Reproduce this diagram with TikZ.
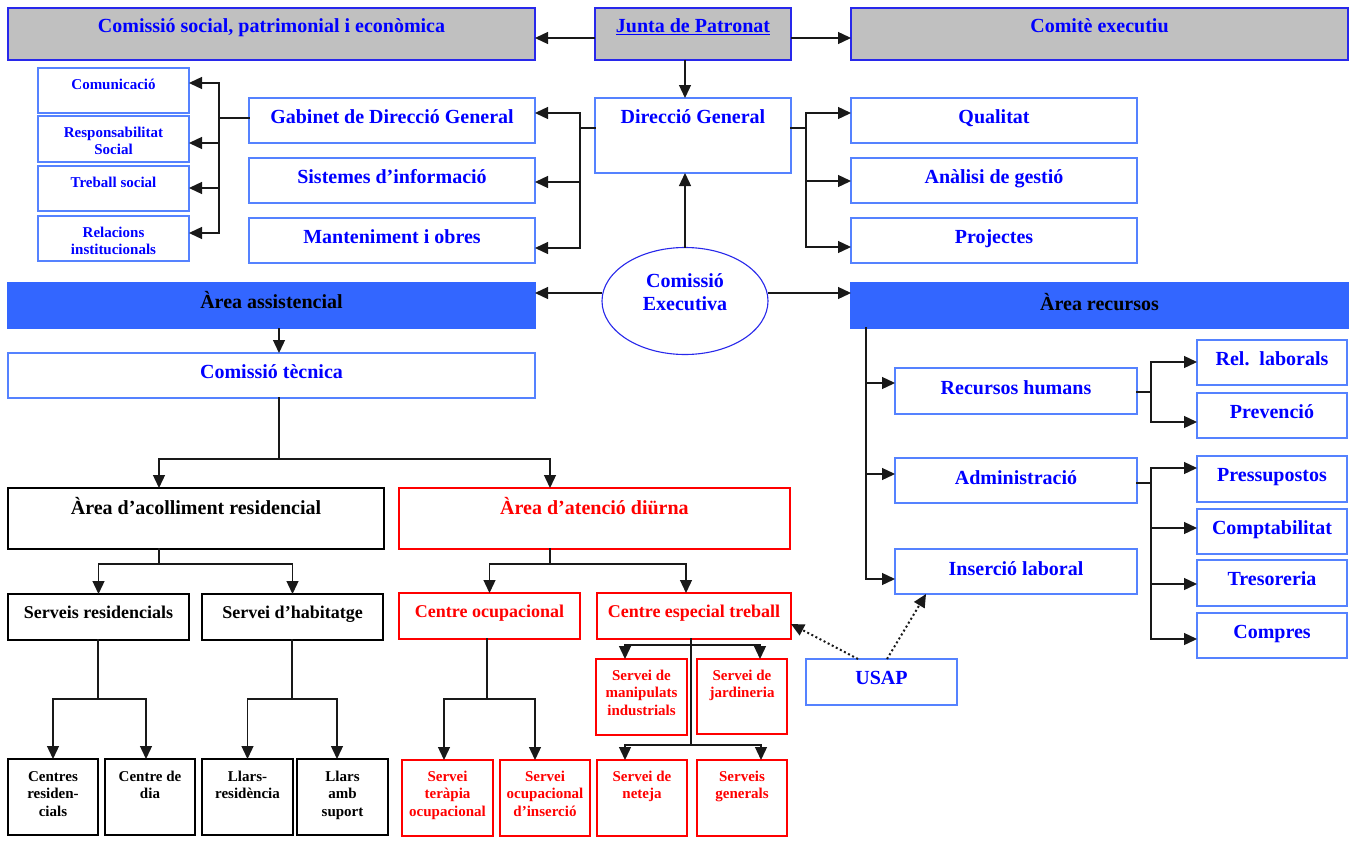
\documentclass[tikz,border=0pt]{standalone}
\usepackage{fontspec}
\setmainfont{Liberation Serif}
\usetikzlibrary{arrows.meta,shapes.geometric}
\definecolor{txtblue}{RGB}{0,0,255}
\definecolor{bordblue}{RGB}{85,130,255}
\definecolor{darkblue}{RGB}{40,40,235}
\definecolor{graybg}{RGB}{192,192,192}
\definecolor{areablue}{RGB}{51,102,255}
\definecolor{lnclr}{RGB}{25,25,25}
\definecolor{redc}{RGB}{255,0,0}
\begin{document}
\begin{tikzpicture}[x=1pt,y=-1pt,
  bx/.style n args={3}{inner sep=0pt, outer sep=0pt, anchor=north west, line width=1.1pt,
     execute at begin node={\begin{minipage}[t][#2pt][t]{#1pt}\centering\rule{0pt}{#3pt}},
     execute at end node={\end{minipage}}},
  big/.style={font=\fontsize{20}{23}\selectfont\bfseries},
  mid/.style={font=\fontsize{18}{21}\selectfont\bfseries},
  sml/.style={font=\fontsize{15}{17.5}\selectfont\bfseries},
  bluebox/.style={draw=bordblue, fill=white, text=txtblue},
  graybox/.style={draw=darkblue, fill=graybg, text=txtblue},
  areabox/.style={draw=areablue, fill=areablue, text=black},
  blackbox/.style={draw=black, fill=white, text=black},
  redbox/.style={draw=redc, fill=white, text=redc},
  ln/.style={draw=lnclr, line width=1.3pt, line cap=rect},
  arr/.style={draw=lnclr, line width=1.3pt, -{Triangle[length=13pt,width=12pt]}},
  dotarr/.style={draw=lnclr, line width=2pt, dash pattern=on 2pt off 2.6pt, -{Triangle[length=13pt,width=12pt]}}
]
\fill[white] (0,0) rectangle (1356,843);
\useasboundingbox (0,0) rectangle (1356,843);

% top row
\node[bx={527}{52}{25}, big, graybox] (comsoc) at (8,8) {Comissió social, patrimonial i econòmica};
\node[bx={196}{52}{25}, big, graybox] (junta) at (595,8) {\underline{Junta de Patronat}};
\node[bx={497}{52}{25}, big, graybox] (comite) at (851,8) {Comitè executiu};

% direction
\node[bx={196}{75}{25}, big, bluebox] (dirgen) at (595,98) {Direcció General};
\node[bx={286}{45}{25}, big, bluebox] (gabinet) at (249,98) {Gabinet de Direcció General};
\node[bx={286}{45}{25}, big, bluebox] (sistemes) at (249,158) {Sistemes d’informació};
\node[bx={286}{45}{25}, big, bluebox] (mant) at (249,218) {Manteniment i obres};
\node[bx={286}{45}{25}, big, bluebox] (qualitat) at (851,98) {Qualitat};
\node[bx={286}{45}{25}, big, bluebox] (analisi) at (851,158) {Anàlisi de gestió};
\node[bx={286}{45}{25}, big, bluebox] (projectes) at (851,218) {Projectes};

\node[bx={151}{45}{21}, sml, bluebox] (comunic) at (38,68) {Comunicació};
\node[bx={151}{46}{21}, sml, bluebox] (respons) at (38,116) {Responsabilitat\\Social};
\node[bx={151}{45}{21}, sml, bluebox] (treball) at (38,166) {Treball social};
\node[bx={151}{45}{21}, sml, bluebox] (relac) at (38,216) {Relacions\\institucionals};

% commission
\node[bx={110}{60}{16}, big, ellipse, draw=darkblue, fill=white, text=txtblue,
      minimum width=166pt, minimum height=107pt, anchor=center] (comexe) at (685,301) {Comissió\\Executiva};

\node[bx={527}{45}{25}, big, areabox] (assist) at (8,283) {Àrea assistencial};
\node[bx={497}{45}{27}, big, areabox] (recursos) at (851,283) {Àrea recursos};
\node[bx={527}{45}{25}, big, bluebox] (tecnica) at (8,353) {Comissió tècnica};

% assistencial tree
\node[bx={376}{61}{26}, big, blackbox] (acoll) at (8,488) {Àrea d’acolliment residencial};
\node[bx={391}{61}{26}, big, redbox] (diurna) at (399,488) {Àrea d’atenció diürna};
\node[bx={181}{46}{24}, mid, blackbox] (servres) at (8,594) {Serveis residencials};
\node[bx={181}{46}{24}, mid, blackbox] (habit) at (202,594) {Servei d’habitatge};
\node[bx={90}{76}{22}, sml, blackbox] (centres) at (8,759) {Centres\\residen-\\cials};
\node[bx={90}{76}{22}, sml, blackbox] (cdia) at (105,759) {Centre de\\dia};
\node[bx={91}{76}{22}, sml, blackbox] (llarsres) at (202,759) {Llars-\\residència};
\node[bx={91}{76}{22}, sml, blackbox] (llarsamb) at (297,759) {Llars\\amb\\suport};
\node[bx={181}{46}{24}, mid, redbox] (cocup) at (399,593) {Centre ocupacional};
\node[bx={194}{46}{24}, mid, redbox] (cet) at (597,593) {Centre especial treball};
\node[bx={91}{76}{21}, sml, redbox] (terapia) at (402,760) {Servei\\teràpia\\ocupacional};
\node[bx={90}{76}{21}, sml, redbox] (insercio) at (500,760) {Servei\\ocupacional\\d’inserció};
\node[bx={91}{76}{21}, sml, redbox] (manip) at (596,659) {Servei de\\manipulats\\industrials};
\node[bx={90}{75}{21}, sml, redbox] (jardin) at (697,659) {Servei de\\jardineria};
\node[bx={90}{76}{21}, sml, redbox] (neteja) at (597,760) {Servei de\\neteja};
\node[bx={90}{76}{21}, sml, redbox] (generals) at (697,760) {Serveis\\generals};
\node[bx={151}{46}{25}, big, bluebox] (usap) at (806,659) {USAP};

% recursos tree
\node[bx={242}{46}{26}, big, bluebox] (rh) at (895,368) {Recursos humans};
\node[bx={242}{45}{26}, big, bluebox] (admin) at (895,458) {Administració};
\node[bx={242}{45}{26}, big, bluebox] (inserc) at (895,549) {Inserció laboral};
\node[bx={150}{45}{25}, big, bluebox] (rellab) at (1197,340) {Rel.\ \ laborals};
\node[bx={150}{45}{25}, big, bluebox] (prev) at (1197,393) {Prevenció};
\node[bx={150}{46}{25}, big, bluebox] (press) at (1197,456) {Pressupostos};
\node[bx={150}{45}{25}, big, bluebox] (compt) at (1197,509) {Comptabilitat};
\node[bx={150}{46}{25}, big, bluebox] (tres) at (1197,560) {Tresoreria};
\node[bx={150}{45}{25}, big, bluebox] (compres) at (1197,613) {Compres};

% ---------------- connectors
\draw[arr] (junta.west |- 0,38) -- (comsoc.east |- 0,38);
\draw[arr] (junta.east |- 0,38) -- (comite.west |- 0,38);
\draw[arr] (comexe.north |- junta.south) -- (comexe.north |- dirgen.north);
\draw[arr] (comexe.north) -- (comexe.north |- dirgen.south);
\draw[arr] (comexe.west |- 0,293) -- (assist.east |- 0,293);
\draw[arr] (comexe.east |- 0,293) -- (recursos.west |- 0,293);

% dirgen left
\coordinate (dl) at (580,128);
\draw[ln] (dirgen.west |- dl) -- (dl);
\draw[ln] (dl |- 0,113) -- (dl |- 0,248);
\draw[arr] (dl |- 0,113) -- (gabinet.east |- 0,113);
\draw[arr] (dl |- 0,182) -- (sistemes.east |- 0,182);
\draw[arr] (dl |- 0,248) -- (mant.east |- 0,248);

% dirgen right
\coordinate (dr) at (806,128);
\draw[ln] (dirgen.east |- dr) -- (dr);
\draw[ln] (dr |- 0,113) -- (dr |- 0,247);
\draw[arr] (dr |- 0,113) -- (qualitat.west |- 0,113);
\draw[arr] (dr |- 0,181) -- (analisi.west |- 0,181);
\draw[arr] (dr |- 0,247) -- (projectes.west |- 0,247);

% gabinet
\coordinate (gl) at (219,118);
\draw[ln] (gabinet.west |- gl) -- (gl);
\draw[ln] (gl |- 0,83) -- (gl |- 0,233);
\draw[arr] (gl |- 0,83) -- (comunic.east |- 0,83);
\draw[arr] (gl |- 0,143) -- (respons.east |- 0,143);
\draw[arr] (gl |- 0,188) -- (treball.east |- 0,188);
\draw[arr] (gl |- 0,233) -- (relac.east |- 0,233);

% assistencial
\coordinate (tx) at (279,459);
\draw[arr] (assist.south -| tx) -- (tecnica.north -| tx);
\draw[ln] (tecnica.south -| tx) -- (tx);
\coordinate (ta) at (159,459);
\coordinate (tb) at (550,459);
\draw[ln] (ta) -- (tb);
\draw[arr] (ta) -- (acoll.north -| ta);
\draw[arr] (tb) -- (diurna.north -| tb);

\coordinate (aj) at (159,564);
\draw[ln] (acoll.south -| aj) -- (aj);
\draw[ln] (servres.north |- aj) -- (habit.north |- aj);
\draw[arr] (servres.north |- aj) -- (servres.north);
\draw[arr] (habit.north |- aj) -- (habit.north);

\coordinate (dj) at (550,564);
\coordinate (dj2) at (686,564);
\draw[ln] (diurna.south -| dj) -- (dj);
\draw[ln] (cocup.north |- dj) -- (dj2);
\draw[arr] (cocup.north |- dj) -- (cocup.north);
\draw[arr] (dj2) -- (cet.north -| dj2);

\coordinate (sj) at (98,699);
\coordinate (sj2) at (146,699);
\draw[ln] (servres.south -| sj) -- (sj);
\draw[ln] (centres.north |- sj) -- (sj2);
\draw[arr] (centres.north |- sj) -- (centres.north);
\draw[arr] (sj2) -- (cdia.north -| sj2);

\coordinate (hj) at (292,699);
\coordinate (hj2) at (337,699);
\draw[ln] (habit.south -| hj) -- (hj);
\draw[ln] (llarsres.north |- hj) -- (hj2);
\draw[arr] (llarsres.north |- hj) -- (llarsres.north);
\draw[arr] (hj2) -- (llarsamb.north -| hj2);

\coordinate (cj) at (487,699);
\coordinate (cj1) at (444,699);
\coordinate (cj2) at (535,699);
\draw[ln] (cocup.south -| cj) -- (cj);
\draw[ln] (cj1) -- (cj2);
\draw[arr] (cj1) -- (terapia.north -| cj1);
\draw[arr] (cj2) -- (insercio.north -| cj2);

\coordinate (ej) at (691,745);
\coordinate (e1) at (625,645);
\coordinate (e2) at (760,645);
\coordinate (e3) at (625,745);
\coordinate (e4) at (761,745);
\draw[ln] (cet.south -| ej) -- (ej);
\draw[ln] (e1) -- (e2);
\draw[ln] (e3) -- (e4);
\draw[arr] (e1) -- (manip.north -| e1);
\draw[arr] (e2) -- (jardin.north -| e2);
\draw[arr] (e3) -- (neteja.north -| e3);
\draw[arr] (e4) -- (generals.north -| e4);

% USAP
\draw[dotarr] (usap.north -| 858,0) -- (cet.east |- 0,624);
\draw[dotarr] (usap.north -| 887,0) -- (inserc.south -| 926,0);

% recursos
\coordinate (rv) at (866,328);
\draw[ln] (recursos.south -| rv) -- (rv |- 0,579);
\draw[arr] (rv |- 0,383) -- (rh.west |- 0,383);
\draw[arr] (rv |- 0,474) -- (admin.west |- 0,474);
\draw[arr] (rv |- 0,579) -- (inserc.west |- 0,579);

\coordinate (rj) at (1151,392);
\draw[ln] (rh.east |- rj) -- (rj);
\draw[ln] (rj |- 0,362) -- (rj |- 0,422);
\draw[arr] (rj |- 0,362) -- (rellab.west |- 0,362);
\draw[arr] (rj |- 0,422) -- (prev.west |- 0,422);

\coordinate (xj) at (1151,483);
\draw[ln] (admin.east |- xj) -- (xj);
\draw[ln] (xj |- 0,468) -- (xj |- 0,639);
\draw[arr] (xj |- 0,468) -- (press.west |- 0,468);
\draw[arr] (xj |- 0,528) -- (compt.west |- 0,528);
\draw[arr] (xj |- 0,584) -- (tres.west |- 0,584);
\draw[arr] (xj |- 0,639) -- (compres.west |- 0,639);
\end{tikzpicture}
\end{document}
